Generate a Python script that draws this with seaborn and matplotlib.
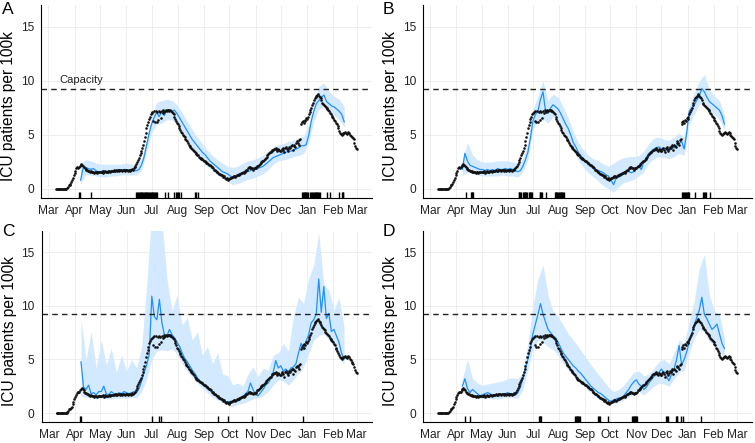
#!/usr/bin/env python3

import numpy as np
import pandas as pd
import seaborn as sns
import matplotlib
matplotlib.use("Agg")
from matplotlib import pyplot as plt
import matplotlib.dates as mdates

# observed ICU patients per 100k, one value per day, split by month
obs_mar = [0, 0, 0, 0, 0, 0, 0, 0, 0, 0, 0, 0, 0,
           0.05, 0.2, 0.35, 0.4, 0.5, 0.6, 0.8, 1.0, 1.3]  # from Mar 10
obs_apr = [1.5, 1.7, 1.9, 2.0, 1.95, 2.0, 2.1, 2.2, 2.3, 2.2,
           2.1, 2.0, 1.9, 1.85, 1.8, 1.75, 1.7, 1.65, 1.6, 1.7,
           1.6, 1.55, 1.6, 1.5, 1.6, 1.55, 1.5, 1.6, 1.55, 1.6]
obs_may = [1.6, 1.55, 1.6, 1.65, 1.5, 1.6, 1.7, 1.6, 1.55, 1.6,
           1.65, 1.7, 1.6, 1.65, 1.7, 1.7, 1.65, 1.75, 1.7, 1.8,
           1.7, 1.75, 1.8, 1.7, 1.75, 1.8, 1.7, 1.8, 1.75, 1.7, 1.8]
obs_jun = [1.8, 1.75, 1.7, 1.8, 1.75, 1.7, 1.8, 1.85, 1.8, 1.9,
           2.0, 2.1, 2.3, 2.5, 2.7, 2.9, 3.1, 3.3, 3.5, 3.8,
           4.1, 4.4, 4.8, 5.2, 5.6, 5.9, 6.2, 6.5, 6.7, 6.9]
obs_jul = [7.0, 7.1, 6.3, 7.2, 6.2, 7.2, 6.2, 7.1, 6.4, 7.2,
           7.1, 6.6, 7.2, 7.0, 7.3, 7.1, 7.2, 7.3, 7.2, 7.3,
           7.3, 7.2, 7.3, 7.2, 7.1, 7.0, 6.9, 6.7, 6.5, 6.3, 6.1]
obs_aug = [6.0, 5.8, 5.6, 5.5, 5.3, 5.2, 5.0, 4.9, 4.8, 4.6,
           4.5, 4.4, 4.3, 4.1, 4.0, 3.9, 3.8, 3.7, 3.6, 3.5,
           3.4, 3.3, 3.2, 3.1, 3.1, 3.0, 2.9, 2.9, 2.8, 2.8, 2.7]
obs_sep = [2.6, 2.6, 2.5, 2.4, 2.4, 2.3, 2.2, 2.2, 2.1, 2.0,
           2.0, 1.9, 1.8, 1.8, 1.7, 1.6, 1.6, 1.5, 1.4, 1.4,
           1.3, 1.3, 1.2, 1.1, 1.2, 1.0, 0.9, 1.0, 0.9, 0.8]
obs_oct = [0.9, 1.0, 1.0, 1.1, 1.1, 1.2, 1.2, 1.1, 1.2, 1.3,
           1.3, 1.3, 1.4, 1.4, 1.5, 1.5, 1.6, 1.5, 1.6, 1.7,
           1.8, 1.8, 1.9, 2.0, 1.9, 2.0, 1.9, 1.9, 1.8, 1.9, 1.9]
obs_nov = [1.9, 2.0, 2.1, 2.1, 2.2, 2.3, 2.4, 2.5, 2.6, 2.6,
           2.7, 2.8, 2.9, 3.0, 3.1, 3.2, 3.3, 3.4, 3.4, 3.5,
           3.6, 3.6, 3.7, 3.7, 3.8, 3.6, 3.5, 3.7, 3.6, 3.5]
obs_dec = [3.5, 3.7, 3.8, 3.6, 3.4, 3.8, 3.9, 3.7, 3.5, 3.7,
           3.9, 3.8, 4.0, 4.1, 3.6, 4.1, 4.0, 3.9, 4.3, 4.4,
           4.3, 4.1, 4.5, 4.6, 6.0, 6.2, 6.3, 6.1, 6.4, 6.3, 6.6]
obs_jan = [6.5, 6.7, 6.9, 7.1, 7.3, 7.5, 7.8, 8.0, 8.2, 8.4,
           8.5, 8.6, 8.7, 8.8, 8.6, 8.5, 8.4, 8.2, 8.0, 7.9,
           7.8, 7.7, 7.6, 7.5, 7.4, 7.3, 7.2, 7.0, 6.9, 6.8, 6.7]
obs_feb = [6.6, 6.4, 6.3, 6.1, 6.0, 5.8, 5.6, 5.4, 5.2, 5.1,
           5.0, 5.1, 5.2, 5.2, 5.3, 5.2, 5.1, 5.2, 5.3, 5.2,
           5.0, 4.9, 4.8, 4.7, 4.6, 4.3, 4.0, 3.8]
obs_mar21 = [3.7]

obs_months = [("2020-03-10", obs_mar), ("2020-04-01", obs_apr),
              ("2020-05-01", obs_may), ("2020-06-01", obs_jun),
              ("2020-07-01", obs_jul), ("2020-08-01", obs_aug),
              ("2020-09-01", obs_sep), ("2020-10-01", obs_oct),
              ("2020-11-01", obs_nov), ("2020-12-01", obs_dec),
              ("2021-01-01", obs_jan), ("2021-02-01", obs_feb),
              ("2021-03-01", obs_mar21)]

# model estimates: every 3 days from Apr 8 2020
line_start = "2020-04-08"
line_a = [0.8, 1.9, 2.0, 1.9, 1.8, 1.9, 1.7, 1.6, 1.6, 1.7,
          1.6, 1.5, 1.7, 1.6, 1.7, 1.8, 1.7, 1.8, 1.8, 1.7,
          1.8, 1.7, 1.7, 1.8, 2.2, 2.9, 4.0, 5.1, 6.0, 6.6,
          7.1, 6.7, 7.2, 6.8, 7.3, 7.3, 7.2, 7.3, 7.0, 6.6,
          6.2, 5.8, 5.4, 5.0, 4.6, 4.3, 4.0, 3.7, 3.4, 3.2,
          2.9, 2.6, 2.4, 2.2, 2.0, 1.8, 1.6, 1.5, 1.4, 1.2,
          1.1, 1.2, 1.3, 1.4, 1.5, 1.5, 1.6, 1.7, 1.8, 1.8,
          1.9, 2.0, 2.1, 2.3, 2.5, 2.7, 2.9, 3.0, 3.1, 3.2,
          3.3, 3.4, 3.5, 3.5, 3.6, 3.7, 3.8, 4.0, 4.0, 4.1,
          5.0, 6.3, 7.2, 7.9, 8.2, 8.5, 8.7, 8.1, 7.9, 7.7,
          7.6, 7.4, 7.2, 6.9, 6.2]
line_b = [1.8, 3.3, 2.6, 2.2, 2.1, 2.0, 1.9, 1.8, 1.8, 1.7,
          1.8, 1.7, 1.8, 1.7, 1.9, 1.8, 1.8, 1.9, 1.8, 1.9,
          1.8, 1.7, 1.6, 1.7, 2.1, 2.7, 3.4, 4.7, 6.3, 6.9,
          7.2, 8.3, 9.0, 7.2, 7.0, 7.5, 7.8, 7.6, 7.4, 7.0,
          6.5, 6.0, 5.6, 5.0, 4.3, 3.9, 3.4, 3.1, 2.8, 2.5,
          2.3, 2.1, 1.9, 1.8, 1.7, 1.6, 1.5, 1.3, 1.2, 0.8,
          0.4, 1.0, 1.1, 1.2, 1.4, 1.7, 1.6, 1.5, 1.6, 1.9,
          2.1, 1.8, 2.5, 2.9, 3.3, 3.5, 3.7, 3.8, 3.9, 3.7,
          3.8, 3.6, 3.7, 3.9, 3.8, 4.0, 4.2, 4.4, 3.7, 5.2,
          7.2, 7.5, 7.8, 8.2, 8.6, 9.3, 9.0, 8.5, 8.1, 7.9,
          7.7, 7.5, 7.3, 6.8, 6.0]
line_c = [4.8, 2.4, 2.2, 2.6, 1.8, 1.9, 1.7, 2.0, 2.0, 2.5,
          1.8, 1.7, 2.0, 1.8, 1.7, 1.9, 1.8, 2.0, 1.9, 1.8,
          1.9, 2.0, 1.9, 2.3, 3.0, 3.8, 4.5, 5.5, 10.9, 9.0,
          8.7, 10.6, 8.4, 7.3, 7.2, 7.8, 7.3, 7.0, 6.6, 6.2,
          5.6, 5.1, 4.8, 4.4, 4.0, 3.7, 3.3, 3.0, 2.7, 2.5,
          2.3, 2.1, 1.9, 1.7, 1.6, 1.4, 1.2, 1.1, 1.0, 1.1,
          1.0, 1.2, 1.1, 1.3, 1.4, 1.8, 2.0, 2.8, 2.2, 1.7,
          1.6, 1.9, 2.2, 2.6, 2.8, 3.2, 3.8, 4.9, 4.2, 4.4,
          3.9, 4.1, 3.8, 4.2, 4.3, 4.6, 5.6, 6.5, 5.9, 6.7,
          7.3, 8.4, 8.7, 9.2, 12.5, 9.4, 11.8, 8.8, 9.3, 7.6,
          7.8, 7.2, 6.6, 5.6, 5.0]
line_d = [2.5, 3.2, 2.3, 1.9, 2.2, 2.0, 1.8, 1.6, 1.7, 1.8,
          1.9, 1.8, 1.6, 1.7, 1.6, 1.8, 1.7, 1.8, 1.9, 1.8,
          1.8, 1.7, 1.9, 2.4, 3.2, 4.2, 5.0, 6.0, 7.4, 8.3,
          9.2, 10.2, 9.2, 8.5, 7.8, 7.5, 7.2, 7.0, 6.6, 6.1,
          5.6, 5.3, 5.0, 4.7, 4.4, 4.2, 3.9, 3.7, 3.4, 3.1,
          2.8, 2.5, 2.3, 2.1, 1.9, 1.8, 1.6, 1.4, 1.2, 1.1,
          1.2, 1.3, 1.4, 1.4, 1.6, 1.9, 2.2, 2.6, 2.9, 3.1,
          2.7, 2.5, 2.2, 2.4, 2.8, 3.1, 3.4, 3.6, 3.8, 4.1,
          3.7, 3.4, 3.0, 3.6, 4.1, 5.0, 6.3, 4.5, 5.0, 5.7,
          6.6, 7.4, 8.2, 8.9, 9.6, 10.8, 9.2, 8.8, 8.3, 7.8,
          8.0, 8.3, 7.4, 6.5, 6.0]

# uncertainty band: every 6 days from Apr 8 2020
lower_a = [0.5, 1.3, 1.3, 1.2, 1.1, 1.1, 1.2, 1.2, 1.3, 1.3,
           1.3, 1.3, 1.7, 3.4, 5.2, 6.0, 6.1, 6.4, 6.4, 6.0,
           5.3, 4.6, 3.8, 3.2, 2.6, 2.1, 1.7, 1.3, 1.0, 0.7,
           0.4, 0.5, 0.7, 0.9, 1.0, 1.2, 1.4, 1.8, 2.3, 2.6,
           2.7, 2.8, 3.0, 3.1, 3.3, 4.3, 6.3, 7.4, 7.7, 7.1,
           6.8, 6.4, 5.7]
upper_a = [2.4, 2.7, 2.6, 2.4, 2.3, 2.3, 2.3, 2.3, 2.3, 2.4,
           2.3, 2.3, 2.8, 4.6, 6.8, 8.0, 8.2, 8.3, 8.2, 7.8,
           7.1, 6.3, 5.5, 4.8, 4.2, 3.6, 3.1, 2.7, 2.4, 2.1,
           2.0, 2.1, 2.4, 2.6, 2.7, 2.9, 3.1, 3.5, 3.9, 4.1,
           4.2, 4.4, 4.5, 4.7, 4.9, 6.0, 8.0, 9.5, 9.8, 9.0,
           8.6, 8.3, 7.6]
lower_b = [1.2, 1.6, 1.4, 1.3, 1.2, 1.2, 1.2, 1.2, 1.3, 1.2,
           1.2, 1.1, 1.6, 2.7, 5.5, 6.3, 6.5, 6.1, 6.7, 6.4,
           5.4, 4.5, 3.5, 2.7, 2.0, 1.5, 1.1, 0.7, 0.3, 0.0,
           -0.3, 0.2, 0.6, 0.7, 0.9, 1.2, 1.6, 2.4, 2.8, 3.0,
           2.9, 2.8, 3.0, 3.3, 3.1, 6.0, 6.9, 7.8, 8.1, 7.3,
           6.9, 6.4, 5.4]
upper_b = [2.5, 4.3, 3.2, 2.7, 2.5, 2.5, 2.5, 2.6, 2.6, 2.6,
           2.5, 2.4, 2.8, 4.4, 7.4, 8.6, 10.0, 8.2, 8.8, 8.5,
           7.6, 6.6, 5.3, 4.3, 3.6, 3.1, 2.8, 2.6, 2.3, 2.1,
           2.4, 2.7, 2.9, 3.0, 3.0, 3.1, 3.5, 4.2, 4.7, 4.8,
           4.6, 4.5, 4.8, 5.2, 4.8, 7.8, 8.9, 10.0, 10.6, 9.2,
           8.6, 8.2, 6.8]
lower_c = [1.6, 1.4, 1.5, 1.3, 1.4, 1.3, 1.3, 1.4, 1.4, 1.4,
           1.5, 1.4, 2.0, 3.2, 5.0, 5.8, 5.9, 5.8, 6.0, 5.5,
           4.6, 3.9, 3.3, 2.8, 2.3, 1.9, 1.5, 1.2, 1.0, 0.8,
           0.6, 0.8, 0.9, 1.1, 1.3, 1.4, 1.6, 2.0, 2.6, 3.1,
           3.0, 2.6, 3.1, 3.7, 4.3, 5.5, 6.8, 7.2, 7.4, 6.8,
           6.2, 5.2, 4.5]
upper_c = [8.8, 5.0, 7.6, 4.2, 6.8, 4.5, 6.0, 3.8, 5.4, 3.9,
           5.0, 4.2, 6.2, 12.0, 19.0, 19.0, 18.0, 12.5, 9.5, 11.0,
           8.2, 8.9, 6.8, 7.6, 5.4, 6.2, 4.6, 5.6, 3.6, 3.5,
           2.6, 2.8, 2.5, 3.6, 4.3, 3.4, 4.2, 4.0, 5.4, 5.6,
           6.5, 5.8, 9.0, 10.8, 10.2, 12.5, 13.8, 16.8, 12.0, 11.5,
           9.6, 10.8, 8.0]
lower_d = [1.9, 2.0, 1.6, 1.4, 1.3, 1.4, 1.3, 1.3, 1.4, 1.5,
           1.4, 1.4, 2.2, 4.0, 6.0, 6.8, 6.6, 6.2, 5.9, 5.4,
           4.6, 4.0, 3.5, 3.1, 2.6, 2.1, 1.7, 1.4, 1.1, 0.9,
           0.9, 1.0, 1.2, 1.5, 1.8, 2.0, 1.7, 2.1, 2.5, 2.8,
           2.7, 2.5, 3.2, 3.8, 4.0, 5.6, 7.0, 7.8, 7.6, 6.6,
           6.4, 5.8, 5.0]
upper_d = [3.2, 5.0, 3.2, 2.8, 2.6, 2.7, 2.8, 2.9, 3.0, 3.2,
           3.3, 3.2, 3.8, 6.5, 10.0, 12.5, 13.8, 11.0, 9.5, 9.0,
           8.2, 7.4, 6.8, 6.2, 5.5, 4.8, 4.2, 3.6, 3.0, 2.4,
           2.0, 2.2, 2.6, 3.2, 3.8, 3.9, 3.5, 3.6, 4.2, 4.8,
           5.0, 4.6, 5.6, 6.8, 6.5, 8.5, 10.5, 13.5, 14.8, 11.0,
           9.5, 9.2, 7.0]

# rug marks (date ranges, inclusive)
rug_a = [("2020-04-06", "2020-04-07"), ("2020-04-20", "2020-04-20"),
         ("2020-06-13", "2020-07-07"), ("2020-07-17", "2020-07-17"),
         ("2020-07-20", "2020-07-20"), ("2020-07-28", "2020-07-28"),
         ("2020-07-30", "2020-08-01"), ("2020-08-03", "2020-08-03"),
         ("2020-08-05", "2020-08-05"), ("2020-08-21", "2020-08-21"),
         ("2020-08-23", "2020-08-23"), ("2020-08-25", "2020-08-25"),
         ("2020-12-26", "2021-01-02"), ("2021-01-05", "2021-01-16"),
         ("2021-01-24", "2021-01-24"), ("2021-01-28", "2021-01-28"),
         ("2021-02-08", "2021-02-08"), ("2021-02-11", "2021-02-13")]
rug_b = [("2020-04-12", "2020-04-12"), ("2020-04-18", "2020-04-21"),
         ("2020-06-14", "2020-06-17"), ("2020-06-19", "2020-06-24"),
         ("2020-06-26", "2020-06-30"), ("2020-07-09", "2020-07-12"),
         ("2020-07-17", "2020-07-17"), ("2020-07-27", "2020-08-07"),
         ("2020-12-26", "2021-01-03"), ("2021-01-10", "2021-01-10"),
         ("2021-01-20", "2021-01-23"), ("2021-01-28", "2021-01-28")]
rug_c = [("2020-04-07", "2020-04-08"), ("2020-07-01", "2020-07-01"),
         ("2020-07-10", "2020-07-10"), ("2020-07-12", "2020-07-12"),
         ("2020-09-17", "2020-09-17"), ("2020-09-29", "2020-09-29"),
         ("2020-10-28", "2020-10-28"), ("2020-12-27", "2020-12-27")]
rug_d = [("2020-04-11", "2020-04-11"), ("2020-04-17", "2020-04-17"),
         ("2020-07-08", "2020-07-11"), ("2020-08-20", "2020-08-26"),
         ("2020-09-17", "2020-09-19"), ("2020-09-28", "2020-09-28"),
         ("2020-10-27", "2020-11-02"), ("2020-12-06", "2020-12-06"),
         ("2020-12-08", "2020-12-09"), ("2020-12-18", "2020-12-20"),
         ("2020-12-24", "2020-12-24"), ("2020-12-27", "2020-12-27"),
         ("2021-01-17", "2021-01-17")]

capacity = 9.25

BLUE = "#1E90FF"
BAND = "#D2E9FF"


def observed() -> pd.DataFrame:
    parts = []
    for start, vals in obs_months:
        parts.append(pd.DataFrame({"date": pd.date_range(start, periods=len(vals)),
                                   "icu": vals}))
    return pd.concat(parts, ignore_index=True)


def rug_dates(ranges):
    return pd.DatetimeIndex(np.concatenate(
        [pd.date_range(a, b).values for a, b in ranges]))


def draw_panel(ax, obs, line, lower, upper, rug, label_capacity=False):
    line_dates = pd.date_range(line_start, periods=len(line), freq="3D")
    band_dates = pd.date_range(line_start, periods=len(lower), freq="6D")

    ax.fill_between(band_dates, lower, upper, color=BAND, lw=0, zorder=1)
    sns.lineplot(x=line_dates, y=line, ax=ax, color=BLUE, lw=0.9, zorder=2)
    sns.scatterplot(data=obs, x="date", y="icu", ax=ax, color="#111111",
                    s=3.5, linewidth=0, zorder=3)
    ax.axhline(capacity, color="#222222", lw=1.0, ls=(0, (4, 3)), zorder=4)
    sns.rugplot(x=mdates.date2num(rug_dates(rug)), ax=ax, height=0.03,
                color="black", lw=0.9, zorder=5)

    if label_capacity:
        ax.text(pd.Timestamp("2020-03-14"), 9.85, "Capacity", fontsize=8,
                ha="left", va="baseline", color="#222222")

    # ggplot style 5% expansion around the observed range
    d0, d1 = obs["date"].min(), obs["date"].max()
    pad = (d1 - d0) * 0.05
    ax.set_xlim(d0 - pad, d1 + pad)
    ax.set_ylim(-0.81, 17.0)
    ax.set_yticks([0, 5, 10, 15])
    ax.xaxis.set_major_locator(mdates.MonthLocator())
    ax.xaxis.set_major_formatter(mdates.DateFormatter("%b"))

    ax.grid(True, color="#ebebeb", lw=0.6)
    ax.set_axisbelow(True)
    for side in ["top", "right"]:
        ax.spines[side].set_visible(False)
    for side in ["left", "bottom"]:
        ax.spines[side].set_color("black")
        ax.spines[side].set_linewidth(0.8)
    ax.tick_params(direction="out", length=3, width=0.8, color="black",
                   labelcolor="#222222", labelsize=8.6, pad=2)
    ax.set_xlabel("")
    ax.set_ylabel("ICU patients per 100k", fontsize=11.2, color="black")
    ax.yaxis.set_label_coords(-0.0755, 0.474)


if __name__ == "__main__":
    sns.set_theme(style="white", context="paper")
    plt.rcParams["font.family"] = ["Liberation Sans", "DejaVu Sans"]

    obs = observed()
    fig = plt.figure(figsize=(7.55, 4.43), dpi=100)

    panels = [
        ("A", [0.0543, 0.5537, 0.4384, 0.4341], line_a, lower_a, upper_a, rug_a),
        ("B", [0.5603, 0.5537, 0.4358, 0.4341], line_b, lower_b, upper_b, rug_b),
        ("C", [0.0550, 0.0481, 0.4373, 0.4310], line_c, lower_c, upper_c, rug_c),
        ("D", [0.5603, 0.0481, 0.4358, 0.4310], line_d, lower_d, upper_d, rug_d),
    ]
    letter_pos = {"A": (0.003, 0.995), "B": (0.507, 0.995),
                  "C": (0.003, 0.494), "D": (0.507, 0.494)}

    for letter, rect, line, lo, up, rug in panels:
        ax = fig.add_axes(rect)
        draw_panel(ax, obs, line, lo, up, rug, label_capacity=(letter == "A"))
        x, y = letter_pos[letter]
        fig.text(x, y, letter, fontsize=12.5, ha="left", va="top", color="black")

    fig.savefig("out.png", dpi=100)
